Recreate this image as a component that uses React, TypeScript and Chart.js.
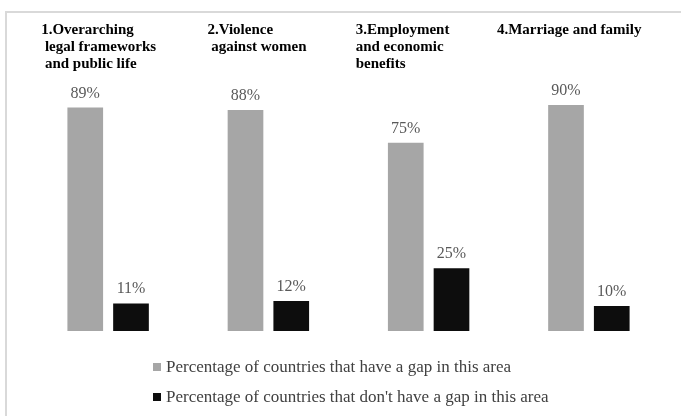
import React, { useEffect, useRef } from "react";
import { Chart, registerables } from "chart.js";

Chart.register(...registerables);

// ---------- data ----------
const categories: string[][] = [
  ["1.Overarching", " legal frameworks", " and public life"],
  ["2.Violence", " against women"],
  ["3.Employment", "and economic", "benefits"],
  ["4.Marriage and family"],
];
const seriesNames = [
  "Percentage of countries that have a gap in this area",
  "Percentage of countries that don't have a gap in this area",
];
const gapValues = [89, 88, 75, 90];
const noGapValues = [11, 12, 25, 10];
const valueSuffix = "%";

// ---------- layout / style (not data) ----------
const titleOffsets = [-67, -61, -73, -92];
const seriesColors = ["#A6A6A6", "#0D0D0D"];
const SERIF = "'Liberation Serif', 'Times New Roman', serif";

const decorPlugin = {
  id: "decor",
  beforeDraw(chart: any) {
    const ctx = chart.ctx;
    ctx.save();
    ctx.fillStyle = "#ffffff";
    ctx.fillRect(0, 0, chart.width, chart.height);
    ctx.strokeStyle = "#d9d9d9";
    ctx.lineWidth = 2;
    ctx.beginPath();
    ctx.moveTo(6, chart.height + 5);
    ctx.lineTo(6, 12);
    ctx.lineTo(chart.width + 5, 12);
    ctx.stroke();
    ctx.restore();
  },
  afterDatasetsDraw(chart: any) {
    const ctx = chart.ctx;
    const xs = chart.scales.x;
    ctx.save();
    // category titles
    ctx.font = `bold 15px ${SERIF}`;
    ctx.fillStyle = "#000000";
    ctx.textAlign = "left";
    ctx.textBaseline = "alphabetic";
    (chart.data.labels as string[][]).forEach((lines, i) => {
      const x = xs.getPixelForValue(i) + titleOffsets[i];
      lines.forEach((l, j) => ctx.fillText(l, x, 34 + j * 17));
    });
    // value labels
    ctx.font = `16px ${SERIF}`;
    ctx.fillStyle = "#595959";
    ctx.textAlign = "center";
    chart.data.datasets.forEach((ds: any, di: number) => {
      const meta = chart.getDatasetMeta(di);
      meta.data.forEach((bar: any, i: number) => {
        ctx.fillText(`${ds.data[i]}${valueSuffix}`, bar.x, bar.y - 10);
      });
    });
    // legend
    ctx.font = `17px ${SERIF}`;
    ctx.textAlign = "left";
    ctx.textBaseline = "middle";
    chart.data.datasets.forEach((ds: any, di: number) => {
      const cy = 367 + di * 30;
      ctx.fillStyle = ds.backgroundColor;
      ctx.fillRect(153, cy - 4, 8, 8);
      ctx.fillStyle = "#404040";
      ctx.fillText(ds.label, 166, cy + 1);
    });
    ctx.restore();
  },
};

export default function App() {
  const ref = useRef<HTMLCanvasElement>(null);
  useEffect(() => {
    if (!ref.current) return;
    const chart = new Chart(ref.current, {
      type: "bar",
      data: {
        labels: categories as any,
        datasets: [
          { label: seriesNames[0], data: gapValues, backgroundColor: seriesColors[0] },
          { label: seriesNames[1], data: noGapValues, backgroundColor: seriesColors[1] },
        ],
      },
      options: {
        responsive: false,
        animation: false,
        devicePixelRatio: 1,
        layout: { padding: { left: 28, right: 12, top: 80, bottom: 85 } },
        datasets: { bar: { categoryPercentage: 0.571, barPercentage: 0.78 } } as any,
        scales: {
          x: { display: false, grid: { display: false } },
          y: { display: false, min: 0, max: 100, grid: { display: false } },
        },
        plugins: { legend: { display: false }, tooltip: { enabled: false } },
      },
      plugins: [decorPlugin],
    });
    return () => chart.destroy();
  }, []);
  return (
    <div style={{ position: "fixed", left: 0, top: 0, width: 681, height: 416, background: "#fff" }}>
      <canvas ref={ref} width={681} height={416} style={{ width: 681, height: 416, display: "block" }} />
    </div>
  );
}
